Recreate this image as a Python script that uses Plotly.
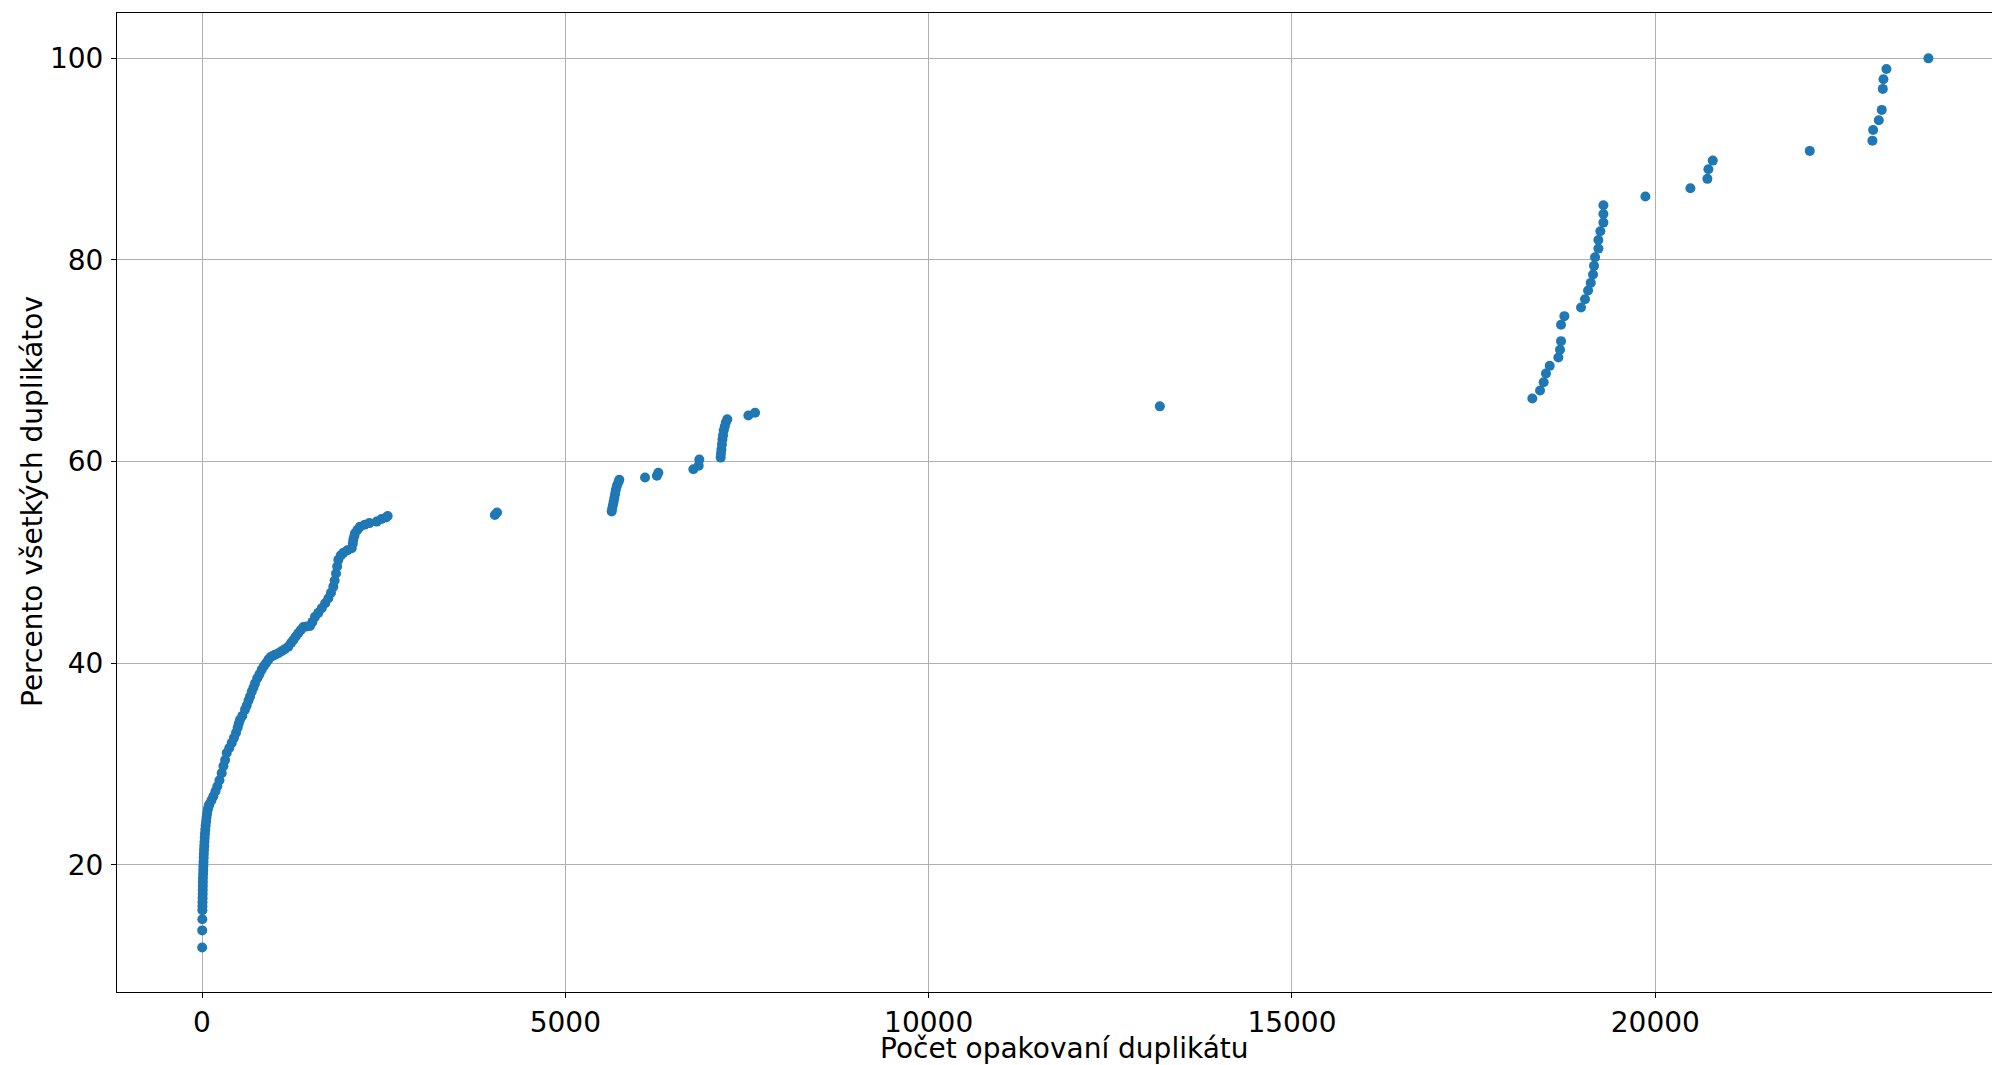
import plotly.graph_objects as go

# Dense cumulative part (x = count of repeats, y = cumulative percent)
curve_x = [2, 3, 4, 5, 6, 7, 8, 9, 10, 11, 12, 13, 15, 17, 19, 21, 23, 25, 28, 31,
           34, 37, 41, 45, 50, 56, 62, 70, 80, 90,
           100, 130, 156, 185, 211, 240, 271, 295, 318, 340, 375, 409, 440, 468, 490,
           505, 523, 555, 592, 615, 640, 661, 685, 708, 729, 760, 790, 821, 850, 880,
           913, 940, 975, 1005, 1050, 1096, 1140, 1188, 1225, 1257, 1290, 1326, 1360,
           1395, 1440, 1486, 1520, 1555, 1600, 1647, 1695, 1739, 1775, 1807, 1825, 1844,
           1860, 1876, 1910, 1945, 2000, 2060, 2075, 2082, 2095, 2105, 2140, 2174, 2240,
           2303, 2404, 2470, 2532, 2555]
curve_y = [11.8, 13.5, 14.6, 15.5, 15.9, 16.3, 16.7, 17.1, 17.5, 17.9, 18.3, 18.7, 19.1,
           19.5, 19.9, 20.3, 20.7, 21.1, 21.5, 21.9, 22.3, 22.7, 23.1, 23.5, 23.9, 24.3,
           24.7, 25.1, 25.5, 25.8,
           26.0, 26.4, 26.8, 27.3, 27.8, 28.4, 29.1, 29.8, 30.4, 31.1, 31.6, 32.1, 32.6,
           33.1, 33.6, 34.0, 34.4, 34.8, 35.4, 35.8, 36.3, 36.7, 37.2, 37.6, 38.0, 38.5,
           38.9, 39.35, 39.7, 40.0, 40.35, 40.6, 40.75, 40.85, 41.0, 41.2, 41.4, 41.65,
           42.0, 42.3, 42.65, 43.0, 43.3, 43.6, 43.65, 43.7, 44.1, 44.6, 45.0, 45.45,
           45.95, 46.45, 47.0, 47.6, 48.2, 48.9, 49.6, 50.25, 50.7, 50.95, 51.2, 51.4,
           51.85, 52.25, 52.6, 52.9, 53.25, 53.55, 53.75, 53.9, 54.05, 54.3, 54.45, 54.6]

# Sparse tail (larger counts)
tail_x = [4030, 4060,
          5638, 5645, 5655, 5665, 5675, 5685, 5695, 5710, 5730, 5743,
          6097, 6260, 6280, 6762, 6835, 6844,
          7138, 7142, 7148, 7155, 7162, 7170, 7180, 7195, 7210, 7229,
          7519, 7611, 13182,
          18308, 18414, 18464, 18496, 18547, 18666, 18689, 18703, 18703, 18749,
          18978, 19033, 19075, 19112, 19143, 19157, 19171, 19217, 19217, 19244,
          19286, 19286, 19286, 19864, 20483, 20717, 20731, 20791, 22126,
          22988, 22998, 23076, 23117, 23131, 23140, 23181, 23759]
tail_y = [54.7, 54.95,
          55.05, 55.35, 55.7, 56.05, 56.4, 56.8, 57.2, 57.6, 57.95, 58.2,
          58.43, 58.6, 58.9, 59.25, 59.6, 60.2,
          60.4, 60.8, 61.2, 61.7, 62.2, 62.6, 63.1, 63.5, 63.9, 64.2,
          64.57, 64.84, 65.48,
          66.26, 67.05, 67.88, 68.74, 69.5, 70.33, 71.09, 71.95, 73.57, 74.43,
          75.28, 76.11, 76.97, 77.73, 78.56, 79.42, 80.28, 81.13, 81.99, 82.85,
          83.71, 84.57, 85.43, 86.29, 87.12, 88.05, 89.0, 89.86, 90.82,
          91.84, 92.9, 93.86, 94.89, 96.97, 97.93, 98.95, 100.0]

x_ticks = [0, 5000, 10000, 15000, 20000]
y_ticks = [20, 40, 60, 80, 100]
x_title = "Počet opakovaní duplikátu"
y_title = "Percento všetkých duplikátov"

W, H = 1992, 1065
ML, MT = 117, 13
MB = H - 992

fig = go.Figure()
fig.add_trace(go.Scatter(x=curve_x + tail_x, y=curve_y + tail_y, mode="markers",
                         marker=dict(color="#1f77b4", size=10, line=dict(width=0)),
                         showlegend=False))

font_family = "DejaVu Sans"
fig.update_layout(
    width=W, height=H,
    margin=dict(l=ML, r=0, t=MT, b=MB),
    paper_bgcolor="white", plot_bgcolor="white",
    font=dict(family=font_family, size=28, color="black"),
    xaxis=dict(range=[-1170, 24634], tickvals=x_ticks, ticktext=[str(v) for v in x_ticks],
               showgrid=True, gridcolor="#b0b0b0", gridwidth=1.1,
               showline=True, linecolor="black", linewidth=1.1, mirror=True,
               ticks="outside", ticklen=5, tickwidth=1.1, tickcolor="black",
               zeroline=False, tickfont=dict(size=28)),
    yaxis=dict(range=[7.39, 104.5], tickvals=y_ticks, ticktext=[str(v) for v in y_ticks],
               showgrid=True, gridcolor="#b0b0b0", gridwidth=1.1,
               showline=True, linecolor="black", linewidth=1.1,
               ticks="outside", ticklen=5, tickwidth=1.1, tickcolor="black",
               ticklabelstandoff=2,
               zeroline=False, tickfont=dict(size=28)),
)

pw = W - ML
ph = H - MT - MB
fig.add_annotation(text=x_title, xref="paper", yref="paper",
                   x=(1064 - ML) / pw, y=(H - MB - 1048) / ph,
                   xanchor="center", yanchor="middle", showarrow=False,
                   font=dict(size=28, family=font_family))
fig.add_annotation(text=y_title, xref="paper", yref="paper",
                   x=(32 - ML) / pw, y=(H - MB - 502) / ph,
                   xanchor="center", yanchor="middle", textangle=-90, showarrow=False,
                   font=dict(size=28, family=font_family))

fig.write_html("out.html",
               config={"displayModeBar": False},
               post_script="document.body.style.margin='0';document.body.style.overflow='hidden';")
